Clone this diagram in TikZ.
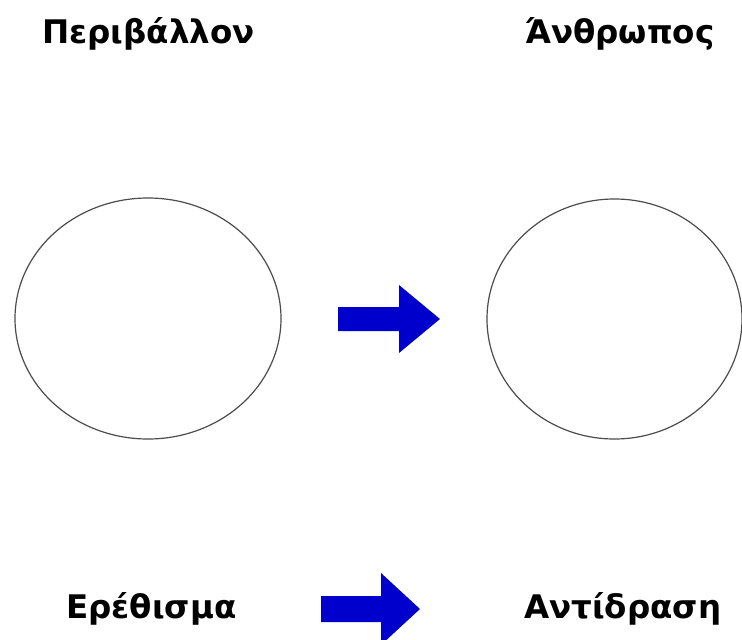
\documentclass[tikz,border=0pt]{standalone}
\usepackage{fontspec}
\setmainfont{DejaVu Sans}
\usetikzlibrary{shapes.geometric}

\definecolor{arrowblue}{RGB}{0,0,205}

\tikzset{
	circ/.style={ellipse, draw=black!70, line width=1.2pt, inner sep=0pt},
	label/.style={anchor=base west, inner sep=0pt, font=\fontsize{32.5}{38}\selectfont\bfseries},
	blockarrow/.style={fill=arrowblue, draw=none}
}

\begin{document}
\begin{tikzpicture}[x=1pt, y=-1pt]
			\useasboundingbox[fill=white] (0,0) rectangle (742,640);

			\node[label] (env) at (42, 43) {Περιβάλλον};
			\node[label] (man) at (525, 43) {Άνθρωπος};

			\node[circ, minimum width=266pt, minimum height=241pt] (A) at (148, 318.5) {};
			\node[circ, minimum width=255pt, minimum height=240pt] (B) at (614.5, 319) {};

			% arrow between the two circles
			\coordinate (t1) at (440, 319);
			\fill[blockarrow] (338, 307) -- (399, 307) -- (399, 285) -- (t1)
				-- (399, 353) -- (399, 331) -- (338, 331) -- cycle;

			\node[label] (stim) at (66, 618) {Ερέθισμα};
			\node[label] (resp) at (524, 618) {Αντίδραση};

			% arrow between the two words
			\coordinate (t2) at (420, 609);
			\fill[blockarrow] (321, 596) -- (381, 596) -- (381, 573) -- (t2)
				-- (381, 645) -- (381, 622) -- (321, 622) -- cycle;

		\end{tikzpicture}
\end{document}
